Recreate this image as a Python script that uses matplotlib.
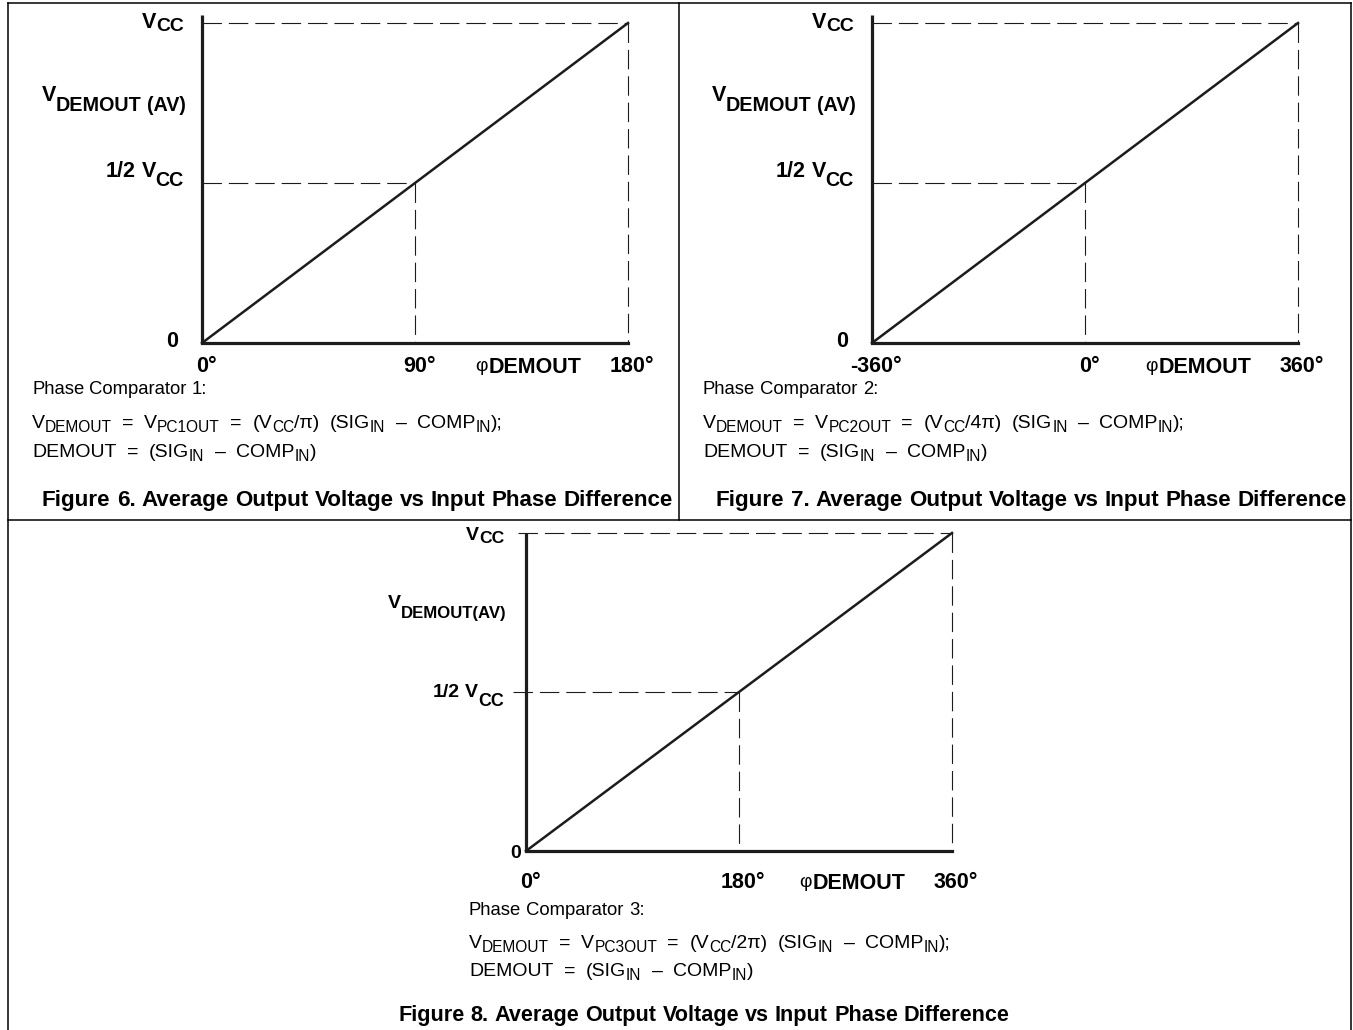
import re
import matplotlib
matplotlib.use('Agg')
import matplotlib.pyplot as plt
from matplotlib.transforms import IdentityTransform, offset_copy

W, H, DPI = 1353, 1030, 100
FAM = ['Liberation Sans', 'DejaVu Sans']
plt.rcParams['font.family'] = FAM
plt.rcParams['lines.scale_dashes'] = False

# ---------------- data ----------------
y_levels = [0.0, 0.5, 1.0]                       # output as fraction of VCC
panel_x_values = [[0, 90, 180], [-360, 0, 360], [0, 180, 360]]
panel_x_labels = [["0°", "90°", "180°"], ["-360°", "0°", "360°"], ["0°", "180°", "360°"]]
comparators = ["1", "2", "3"]
gain_text = ["π", "4π", "2π"]
figure_nums = ["6", "7", "8"]
vdemout_text = ["DEMOUT (AV)", "DEMOUT (AV)", "DEMOUT(AV)"]

# ---------------- layout (pixels, top-left origin) ----------------
layout = [
    dict(x0=202, x1=628, yz=343, yv=23, top=15, lab_r=184, lab_r0=178, zero_y=347,
         vcc_y=28, vd_y=101, half_y=177, tick_y=372, tx=32, ty=[394, 428, 457],
         cap_x=673, cap_y=506, cap_ha='right', dash_left=0, lab_fs=15.5, vd_sc=0.92, cap_fs=16.1),
    dict(x0=872, x1=1298, yz=343, yv=23, top=15, lab_r=854, lab_r0=848, zero_y=347,
         vcc_y=28, vd_y=101, half_y=177, tick_y=372, tx=703, ty=[394, 428, 457],
         cap_x=1347, cap_y=506, cap_ha='right', dash_left=0, lab_fs=15.5, vd_sc=0.92, cap_fs=16.1),
    dict(x0=526, x1=952, yz=851, yv=533, top=533, lab_r=504, lab_r0=521, zero_y=858,
         vcc_y=540, vd_y=608, half_y=697, tick_y=888, tx=469, ty=[915, 948, 976],
         cap_x=704, cap_y=1021, cap_ha='center', dash_left=8, lab_fs=14.0, vd_sc=0.86, cap_fs=15.6),
]

INK = '#1e1b1c'
FS_TICK = 15.5
FS_PHASE = 13.3
FS_BODY = 14.0
SUB = 0.8
SUB_DY = 4
SP_EXTRA = 5

fig = plt.figure(figsize=(W / DPI, H / DPI), dpi=DPI)
R = fig.canvas.get_renderer()
IT = IdentityTransform()


def twidth(s, size, weight):
    t = fig.text(0, 0, s + '|', fontsize=size, weight=weight, transform=IT)
    t2 = fig.text(0, 0, '|', fontsize=size, weight=weight, transform=IT)
    w = t.get_window_extent(R).width - t2.get_window_extent(R).width
    t.remove()
    t2.remove()
    return w


def runs(x, y, parts, size, ha='left', sp_extra=0):
    # parts: (text, scale, dy_px, weight)
    items = []
    for t, sc, dy, wt in parts:
        fs = size * sc
        for tok in re.split('( )', t):
            if tok == '':
                continue
            if tok == ' ':
                items.append((None, fs, dy, wt, twidth(' ', fs, wt) + sp_extra))
            else:
                items.append((tok, fs, dy, wt, twidth(tok, fs, wt)))
    total = sum(it[4] for it in items)
    if ha == 'right':
        x -= total
    elif ha == 'center':
        x -= total / 2
    for tok, fs, dy, wt, w in items:
        if tok is not None:
            fig.text(x, H - (y + dy), tok, fontsize=fs, weight=wt, va='baseline',
                     ha='left', transform=IT, color='black')
        x += w


# ---------------- frames ----------------
frame = fig.add_axes([0, 0, 1, 1])
frame.set_xlim(0, W)
frame.set_ylim(H, 0)
frame.axis('off')
flw = 1.1
frame.plot([8, 8], [3, H], color='black', lw=flw)
frame.plot([1351, 1351], [3, H], color='black', lw=flw)
frame.plot([8, 1351], [3, 3], color='black', lw=flw)
frame.plot([8, 1351], [520, 520], color='black', lw=flw)
frame.plot([679, 679], [3, 520], color='black', lw=flw)

DASH = (0, (14, 5))
for i in range(3):
    L = layout[i]
    xv = panel_x_values[i]
    ax = fig.add_axes([L['x0'] / W, 1 - L['yz'] / H, (L['x1'] - L['x0']) / W,
                       (L['yz'] - L['yv']) / H])
    ax.set_xlim(xv[0], xv[-1])
    ax.set_ylim(y_levels[0], y_levels[-1])
    ax.axis('off')
    span = xv[-1] - xv[0]
    px_x = span / (L['x1'] - L['x0'])
    px_y = 1.0 / (L['yz'] - L['yv'])
    xl = xv[0] - L['dash_left'] * px_x
    # dashed guides
    ax.plot([xl, xv[-1]], [y_levels[2], y_levels[2]], color=INK, lw=0.8, ls=DASH, clip_on=False)
    ax.plot([xl - 5 * px_x * (L['dash_left'] > 0), xv[1]], [y_levels[1], y_levels[1]],
            color=INK, lw=0.8, ls=DASH, clip_on=False)
    ax.plot([xv[1], xv[1]], [y_levels[1], y_levels[0]], color=INK, lw=0.8, ls=DASH, clip_on=False)
    ax.plot([xv[2], xv[2]], [y_levels[2], y_levels[0]], color=INK, lw=0.8, ls=DASH, clip_on=False)
    # axes
    ytop = 1 + (L['yv'] - L['top']) * px_y
    ax.plot([xv[0], xv[0]], [0, ytop], color=INK, lw=2.3, solid_capstyle='butt', clip_on=False)
    ax.plot([xv[0], xv[-1]], [0, 0], color=INK, lw=2.3, solid_capstyle='projecting', clip_on=False)
    # transfer characteristic
    ax.plot(xv, y_levels, color=INK, lw=1.8, clip_on=False)

    # x tick labels
    for v, lab in zip(xv, panel_x_labels[i]):
        tr = offset_copy(ax.transData, fig=fig, x=4, y=-(L['tick_y'] - L['yz']), units='dots')
        ax.text(v, 0, lab, transform=tr, ha='center', va='baseline', fontsize=FS_TICK,
                weight='bold', clip_on=False)
    # phi label
    runs(L['x0'] + 0.766 * (L['x1'] - L['x0']), L['tick_y'] + 1,
         [("φ", 0.9, -2, 'normal'), ("DEMOUT", 1.0, 0, 'bold')], FS_TICK, ha='center')

    # y labels
    fs = L['lab_fs']
    runs(L['lab_r0'], L['zero_y'], [("0", 1.0, 0, 'bold')], fs, ha='right')
    runs(L['lab_r'], L['vcc_y'], [("V", 1.0, 0, 'bold'), ("CC", 0.9, 3, 'bold')], fs, ha='right')
    runs(L['lab_r'] + 2, L['vd_y'], [("V", 1.0, 0, 'bold'), (vdemout_text[i], L['vd_sc'], 10, 'bold')],
         fs, ha='right')
    runs(L['lab_r'], L['half_y'], [("1/2 V", 1.0, 0, 'bold'), ("CC", 0.92, 9, 'bold')],
         fs, ha='right')

    # body text
    runs(L['tx'], L['ty'][0], [("Phase Comparator " + comparators[i] + ":", 1, 0, 'normal')], FS_PHASE)
    runs(L['tx'], L['ty'][1], [
        ("V", 1, 0, 'normal'), ("DEMOUT", SUB, SUB_DY, 'normal'),
        (" = V", 1, 0, 'normal'), ("PC" + comparators[i] + "OUT", SUB, SUB_DY, 'normal'),
        (" = (V", 1, 0, 'normal'), ("CC", SUB, SUB_DY, 'normal'),
        ("/" + gain_text[i] + ") (SIG", 1, 0, 'normal'), ("IN", SUB, SUB_DY, 'normal'),
        (" – COMP", 1, 0, 'normal'), ("IN", SUB, SUB_DY, 'normal'), (");", 1, 0, 'normal')],
        FS_BODY, sp_extra=SP_EXTRA)
    runs(L['tx'], L['ty'][2], [
        ("DEMOUT = (SIG", 1, 0, 'normal'), ("IN", SUB, SUB_DY, 'normal'),
        (" – COMP", 1, 0, 'normal'), ("IN", SUB, SUB_DY, 'normal'), (")", 1, 0, 'normal')],
        FS_BODY, sp_extra=SP_EXTRA)
    runs(L['cap_x'], L['cap_y'],
         [("Figure " + figure_nums[i] + ". Average Output Voltage vs Input Phase Difference", 1, 0, 'bold')],
         L['cap_fs'], ha=L['cap_ha'])

fig.savefig('out.png', dpi=DPI)
